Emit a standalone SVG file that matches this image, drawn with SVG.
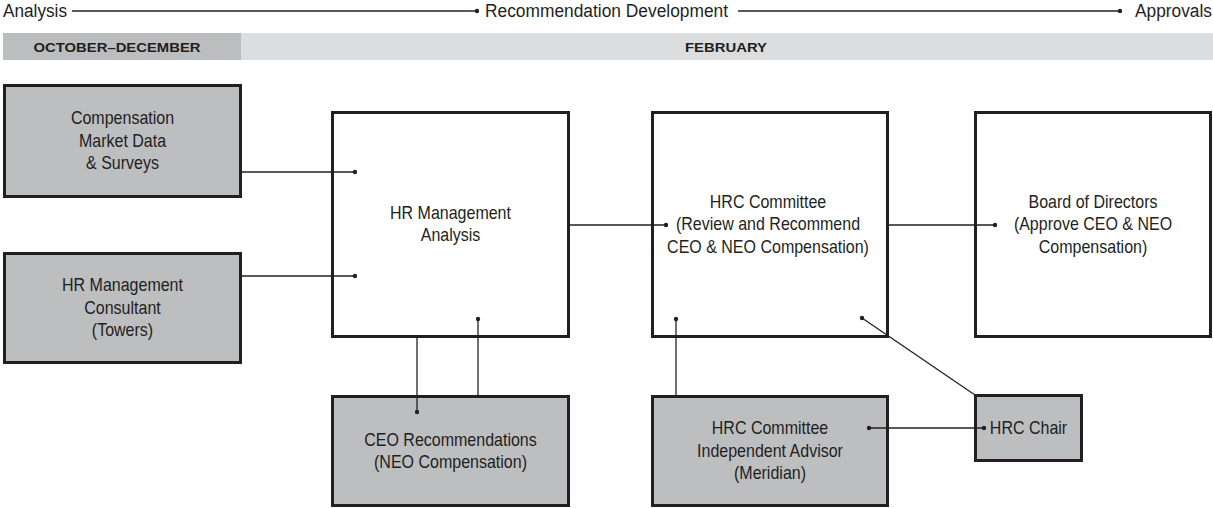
<svg xmlns="http://www.w3.org/2000/svg" width="1213" height="508" viewBox="0 0 1213 508">
  <style>
    .lbl { font-family: "Liberation Sans", Arial, sans-serif; font-size: 18px; fill: #231f20; text-anchor: middle; }
    .hdr { font-family: "Liberation Sans", Arial, sans-serif; font-size: 18px; fill: #231f20; }
    .band { font-family: "Liberation Sans", Arial, sans-serif; font-size: 13px; font-weight: bold; fill: #231f20; text-anchor: middle; }
    .box { stroke: #231f20; stroke-width: 3; }
    .shade { fill: #bcbec0; }
    .plain { fill: #ffffff; }
    .wire { stroke: #231f20; stroke-width: 1.3; fill: none; }
    .dot { fill: #231f20; }
  </style>

  <!-- timeline header -->
  <g id="timeline">
    <text class="hdr" x="3" y="17" textLength="64" lengthAdjust="spacingAndGlyphs">Analysis</text>
    <line class="wire" x1="72" y1="11" x2="477" y2="11"/>
    <circle class="dot" cx="477" cy="11" r="2.2"/>
    <text class="hdr" x="485" y="17" textLength="243" lengthAdjust="spacingAndGlyphs">Recommendation Development</text>
    <line class="wire" x1="738" y1="11" x2="1120" y2="11"/>
    <circle class="dot" cx="1120" cy="11" r="2.2"/>
    <text class="hdr" x="1135" y="17" textLength="77" lengthAdjust="spacingAndGlyphs">Approvals</text>
  </g>

  <!-- period band -->
  <g id="period-band">
    <rect x="3" y="33" width="238" height="27" fill="#bcbdbf"/>
    <rect x="241" y="33" width="972" height="27" fill="#dcdddf"/>
    <text class="band" x="117" y="52" textLength="167" lengthAdjust="spacingAndGlyphs">OCTOBER–DECEMBER</text>
    <text class="band" x="726" y="52" textLength="82" lengthAdjust="spacingAndGlyphs">FEBRUARY</text>
  </g>

  <!-- nodes: labels are drawn in a horizontally condensed group centred on each box -->
  <g id="market-data">
    <rect class="box shade" x="4.5" y="85.5" width="236" height="111"/>
    <g transform="translate(122.5 0) scale(0.89 1)">
      <text class="lbl" x="0" y="124.5">Compensation</text>
      <text class="lbl" x="0" y="147">Market Data</text>
      <text class="lbl" x="0" y="169.5">&amp; Surveys</text>
    </g>
  </g>

  <g id="hr-consultant">
    <rect class="box shade" x="4.5" y="253.5" width="236" height="109"/>
    <g transform="translate(122.5 0) scale(0.89 1)">
      <text class="lbl" x="0" y="291.5">HR Management</text>
      <text class="lbl" x="0" y="314">Consultant</text>
      <text class="lbl" x="0" y="336.5">(Towers)</text>
    </g>
  </g>

  <g id="hr-analysis">
    <rect class="box plain" x="332.5" y="112.5" width="236" height="224"/>
    <g transform="translate(450.5 0) scale(0.89 1)">
      <text class="lbl" x="0" y="219">HR Management</text>
      <text class="lbl" x="0" y="241.5">Analysis</text>
    </g>
  </g>

  <g id="hrc-committee">
    <rect class="box plain" x="652.5" y="112.5" width="235" height="224"/>
    <g transform="translate(768 0) scale(0.89 1)">
      <text class="lbl" x="0" y="208">HRC Committee</text>
      <text class="lbl" x="0" y="230.5">(Review and Recommend</text>
      <text class="lbl" x="0" y="253">CEO &amp; NEO Compensation)</text>
    </g>
  </g>

  <g id="board">
    <rect class="box plain" x="975.5" y="112.5" width="235" height="224"/>
    <g transform="translate(1093 0) scale(0.89 1)">
      <text class="lbl" x="0" y="208">Board of Directors</text>
      <text class="lbl" x="0" y="230.5">(Approve CEO &amp; NEO</text>
      <text class="lbl" x="0" y="253">Compensation)</text>
    </g>
  </g>

  <g id="ceo-recommendations">
    <rect class="box shade" x="332.5" y="396.5" width="236" height="109"/>
    <g transform="translate(450.5 0) scale(0.89 1)">
      <text class="lbl" x="0" y="446">CEO Recommendations</text>
      <text class="lbl" x="0" y="468.5">(NEO Compensation)</text>
    </g>
  </g>

  <g id="independent-advisor">
    <rect class="box shade" x="652.5" y="396.5" width="235" height="109"/>
    <g transform="translate(770 0) scale(0.89 1)">
      <text class="lbl" x="0" y="434.5">HRC Committee</text>
      <text class="lbl" x="0" y="457">Independent Advisor</text>
      <text class="lbl" x="0" y="479.5">(Meridian)</text>
    </g>
  </g>

  <g id="hrc-chair">
    <rect class="box shade" x="975.5" y="395.5" width="106" height="65"/>
    <g transform="translate(1028.5 0) scale(0.89 1)">
      <text class="lbl" x="0" y="434.5">HRC Chair</text>
    </g>
  </g>

  <!-- connectors -->
  <g id="connectors">
    <line class="wire" x1="242" y1="172" x2="355" y2="172"/>
    <circle class="dot" cx="355" cy="172" r="2.2"/>
    <line class="wire" x1="242" y1="276" x2="355" y2="276"/>
    <circle class="dot" cx="355" cy="276" r="2.2"/>
    <line class="wire" x1="570" y1="225" x2="666" y2="225"/>
    <circle class="dot" cx="666" cy="225" r="2.2"/>
    <line class="wire" x1="889" y1="225" x2="995" y2="225"/>
    <circle class="dot" cx="995" cy="225" r="2.2"/>
    <line class="wire" x1="417" y1="338" x2="417" y2="412"/>
    <circle class="dot" cx="417" cy="412" r="2.2"/>
    <line class="wire" x1="478" y1="319" x2="478" y2="395"/>
    <circle class="dot" cx="478" cy="319" r="2.2"/>
    <line class="wire" x1="676" y1="319" x2="676" y2="395"/>
    <circle class="dot" cx="676" cy="319" r="2.2"/>
    <line class="wire" x1="862" y1="318" x2="975" y2="395"/>
    <circle class="dot" cx="862" cy="318" r="2.2"/>
    <line class="wire" x1="869" y1="428" x2="984" y2="428"/>
    <circle class="dot" cx="869" cy="428" r="2.2"/>
    <circle class="dot" cx="984" cy="428" r="2.2"/>
  </g>
</svg>
